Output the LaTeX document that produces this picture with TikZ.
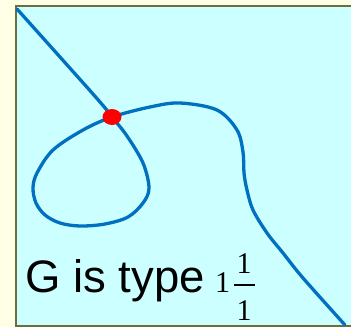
\documentclass[tikz,border=0pt]{standalone}
\usepackage{fontspec}
\setmainfont{Liberation Sans}
\newfontfamily\serifdigits{Liberation Serif}
\definecolor{cream}{RGB}{255,255,229}
\definecolor{panel}{RGB}{204,255,255}
\definecolor{frame}{RGB}{110,110,60}
\definecolor{curveblue}{RGB}{0,112,192}
\tikzset{
  panelbox/.style={fill=panel, draw=frame, line width=2pt},
  curveline/.style={draw=curveblue, line width=3.3pt, line cap=round, line join=round},
  dotmark/.style={fill=red, draw=none},
  labeltext/.style={inner sep=0pt, font=\fontsize{45.5}{45.5}\selectfont},
  digit/.style={inner sep=0pt, font=\serifdigits\fontsize{30}{30}\selectfont}
}
\begin{document}
\begin{tikzpicture}[x=1pt,y=-1pt]
\useasboundingbox (0,0) rectangle (351,327);
\fill[cream] (0,0) rectangle (351,327);
\clip (0,0) rectangle (351,327);
\path[panelbox] (16,6) rectangle (370,326);
\draw[curveline] plot[smooth, tension=0.55] coordinates {
 (17,9) (60,57) (100,102) (112,117) (127,136) (143,163) (149,188) (143,203)
 (128,217) (105,224) (80,226) (60,223) (45,215) (36,203) (33,188) (37,173)
 (53,150) (83,130) (112,117) (150,107) (180,103) (217,110) (237,130)
 (243,152) (244,173) (247,190) (253,210) (267,233) (283,253) (303,278) (345,325)};
\fill[dotmark] (112,117) ellipse [x radius=9.5, y radius=8];
\node[labeltext, anchor=base west] (lbl) at (25,292) {G is type};
\node[digit, anchor=base west] (whole) at (215,292) {1};
\node[digit, anchor=base] (num) at (244,273) {1};
\node[digit, anchor=base] (den) at (244,320) {1};
\draw[line width=1.3pt] (234,285) -- (255,285);
\end{tikzpicture}
\end{document}
